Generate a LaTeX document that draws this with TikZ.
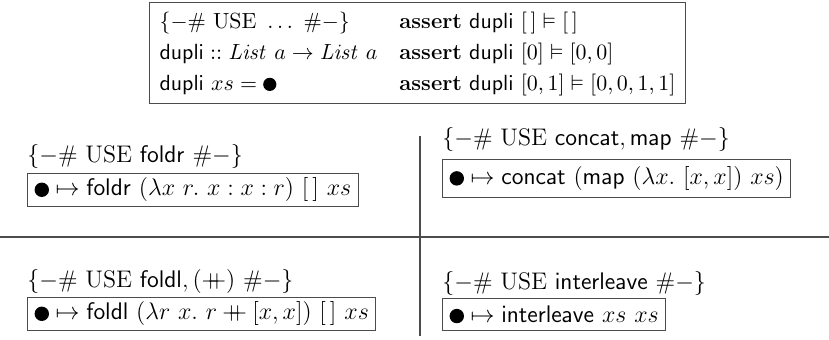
\documentclass[tikz,border=0pt]{standalone}
\usepackage{amssymb}
\newcommand{\hole}{\tikz[baseline=-0.6ex]\fill (0,0) circle (0.3em);}
\newcommand{\pplus}{\mathbin{+\!\!\!+}}
\begin{document}
\begin{tikzpicture}[x=0.5pt,y=-0.5pt,
  rule/.style={line width=0.6pt, draw=black!70},
  label/.style={anchor=west, inner sep=0pt, font=\fontsize{12}{14.4}\selectfont},
  rulebox/.style={draw=black!70, line width=0.6pt, anchor=north west, inner xsep=3.5pt, inner ysep=2.2pt, font=\fontsize{12}{14.4}\selectfont}]
\useasboundingbox (0,0) rectangle (829,340);
% top specification box
\node[draw=black!70, line width=0.6pt, inner xsep=5pt, inner ysep=2pt, font=\fontsize{11}{13.2}\selectfont] (spec) at (417.5,53) {%
\renewcommand{\arraystretch}{1.17}%
\begin{tabular}{@{}l@{\quad}l@{}}
$\{-\#\ \mathrm{USE}\ \ldots\ \#-\}$ & $\textbf{assert}\ \mathsf{dupli}\ [\,]\vDash[\,]$\\
$\mathsf{dupli} :: \mathit{List}\ a \to \mathit{List}\ a$ & $\textbf{assert}\ \mathsf{dupli}\ [0]\vDash[0,0]$\\
$\mathsf{dupli}\ xs = \hole$ & $\textbf{assert}\ \mathsf{dupli}\ [0,1]\vDash[0,0,1,1]$
\end{tabular}};
% separators
\coordinate (hl) at (0,237);
\coordinate (hr) at (829,237);
\coordinate (vt) at (420,136);
\coordinate (vb) at (420,336);
\draw[rule] (hl) -- (hr);
\draw[rule] (vt) -- (vb);
% quadrant 1
\node[label] (l1) at (27,157) {$\{-\#\ \mathrm{USE}\ \mathsf{foldr}\ \#-\}$};
\node[rulebox] (b1) at (27,173) {$\hole \mapsto \mathsf{foldr}\ (\lambda x\ r.\ x : x : r)\ [\,]\ xs$};
% quadrant 2
\node[label] (l2) at (442,140) {$\{-\#\ \mathrm{USE}\ \mathsf{concat}, \mathsf{map}\ \#-\}$};
\node[rulebox, inner ysep=3.5pt] (b2) at (442,159) {$\hole \mapsto \mathsf{concat}\ (\mathsf{map}\ (\lambda x.\ [x,x])\ xs)$};
% quadrant 3
\node[label] (l3) at (27,282) {$\{-\#\ \mathrm{USE}\ \mathsf{foldl}, (\pplus)\ \#-\}$};
\node[rulebox] (b3) at (27,297) {$\hole \mapsto \mathsf{foldl}\ (\lambda r\ x.\ r \pplus [x,x])\ [\,]\ xs$};
% quadrant 4
\node[label] (l4) at (442,284) {$\{-\#\ \mathrm{USE}\ \mathsf{interleave}\ \#-\}$};
\node[rulebox, inner ysep=3.5pt] (b4) at (442,298) {$\hole \mapsto \mathsf{interleave}\ xs\ xs$};
\end{tikzpicture}
\end{document}
